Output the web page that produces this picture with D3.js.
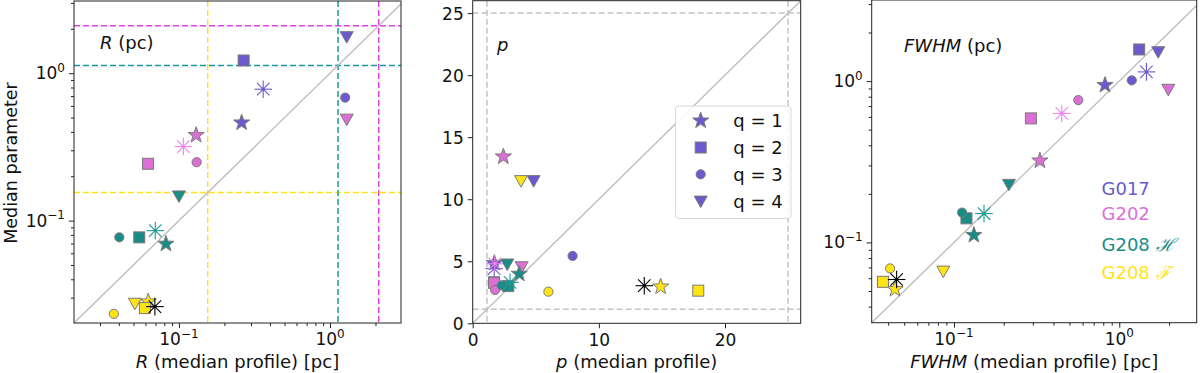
<!DOCTYPE html>
<html><head><meta charset="utf-8">
<script src="https://cdn.jsdelivr.net/npm/d3@7"></script>
<style>
body{margin:0;background:#fff;}
svg{display:block;font-family:"DejaVu Sans",sans-serif;}
</style></head>
<body><svg id="chart" width="1200" height="373"></svg>
<script>
// ---- data ----
const groups = ["G017", "G202", "G208 H", "G208 F"];
const groupColors = ["#6a5acd", "#da70d6", "#1a8c88", "#ffe414"];
const asteriskColors = ["#6a5acd", "#ee82ee", "#1a9a96", "#000000"];
const shapes = ["star", "square", "circle", "triangle", "asterisk"];
// order per group: star (q=1), square (q=2), circle (q=3), triangle (q=4), asterisk
const rMedianG017 = [0.26, 0.268, 1.26, 1.29, 0.361];
const rParamG017  = [0.462, 1.22, 0.683, 1.77, 0.779];
const rMedianG202 = [0.130, 0.0624, 0.131, 1.29, 0.107];
const rParamG202  = [0.38, 0.243, 0.249, 0.488, 0.318];
const rMedianG208H = [0.082, 0.0546, 0.0403, 0.1, 0.0697];
const rParamG208H  = [0.0695, 0.077, 0.077, 0.147, 0.0855];
const rMedianG208F = [0.0626, 0.0595, 0.0371, 0.0511, 0.0693];
const rParamG208F  = [0.0282, 0.0255, 0.0233, 0.0275, 0.0261];
const rLimits = [0.155, 1.13, 2.1]; // G208 F, G208 H, G202

const pMedianG017 = [1.72, 1.7, 7.92, 4.83, 1.7];
const pParamG017  = [4.85, 3.3, 5.43, 11.5, 4.4];
const pMedianG202 = [2.43, 1.69, 1.77, 3.88, 1.75];
const pParamG202  = [13.43, 3.27, 2.69, 4.56, 4.8];
const pMedianG208H = [3.69, 2.82, 2.30, 2.74, 2.96];
const pParamG208H  = [3.98, 3.0, 3.05, 4.78, 3.3];
const pMedianG208F = [14.9, 17.88, 6.0, 3.83, 13.6];
const pParamG208F  = [2.95, 2.63, 2.55, 11.5, 3.03];
const pLimits = [1.13, 25];

const fMedianG017 = [0.82, 1.32, 1.19, 1.72, 1.46];
const fParamG017  = [0.944, 1.57, 1.01, 1.52, 1.14];
const fMedianG202 = [0.331, 0.292, 0.565, 1.98, 0.449];
const fParamG202  = [0.321, 0.587, 0.762, 0.889, 0.63];
const fMedianG208H = [0.132, 0.119, 0.112, 0.215, 0.152];
const fParamG208H  = [0.111, 0.141, 0.153, 0.229, 0.151];
const fMedianG208F = [0.044, 0.0372, 0.0411, 0.0862, 0.045];
const fParamG208F  = [0.0513, 0.057, 0.069, 0.0664, 0.0589];

const legendLabels = ["q = 1", "q = 2", "q = 3", "q = 4"];
const linTicks = [0, 5, 10, 15, 20, 25];
const linXTicks = [0, 10, 20];

// ---- helpers ----
const svg = d3.select("#chart");
const FS = 18;     // labels
const TFS = 17;    // tick labels

function buildPoints(xs, ys) {
  const pts = [];
  xs.forEach((xa, g) => xa.forEach((x, i) => pts.push({x, y: ys[g][i], g, shape: shapes[i]})));
  return pts;
}

function starPath(r) {
  const pts = [];
  const ri = r * 0.4;
  for (let k = 0; k < 10; k++) {
    const a = -Math.PI / 2 + k * Math.PI / 5;
    const rr = k % 2 === 0 ? r : ri;
    pts.push([rr * Math.cos(a), rr * Math.sin(a)]);
  }
  return "M" + pts.map(p => p.join(",")).join("L") + "Z";
}

function drawMarker(sel, shape, color, acol) {
  const edge = "#7a7a7a";
  if (shape === "star") {
    sel.append("path").attr("d", starPath(8.5)).attr("fill", color).attr("stroke", edge).attr("stroke-width", 1);
  } else if (shape === "square") {
    sel.append("rect").attr("x", -5.5).attr("y", -5.5).attr("width", 11).attr("height", 11)
      .attr("fill", color).attr("stroke", edge).attr("stroke-width", 1);
  } else if (shape === "circle") {
    sel.append("circle").attr("r", 4.6).attr("fill", color).attr("stroke", edge).attr("stroke-width", 1);
  } else if (shape === "triangle") {
    sel.append("path").attr("d", "M-6.5,-5L6.5,-5L0,6.5Z").attr("fill", color).attr("stroke", edge).attr("stroke-width", 1);
  } else if (shape === "asterisk") {
    const r = 8.8;
    for (let k = 0; k < 4; k++) {
      const a = k * Math.PI / 4;
      sel.append("line").attr("x1", -r * Math.cos(a)).attr("y1", -r * Math.sin(a))
        .attr("x2", r * Math.cos(a)).attr("y2", r * Math.sin(a))
        .attr("stroke", acol).attr("stroke-width", 1.1);
    }
    sel.append("circle").attr("r", 1.6).attr("fill", acol);
  }
}

function logLabel(sel, exp) {
  sel.append("tspan").text("10");
  sel.append("tspan").attr("dy", -7.5).attr("font-size", 12).text(exp === 0 ? "0" : "\u22121");
}

function drawPanel(cfg) {
  const {x0, x1, y0, y1, xs, ys, log} = cfg;
  const g = svg.append("g");
  if (cfg.extras) cfg.extras(g, xs, ys);
  const dmin = Math.max(xs.domain()[0], ys.domain()[0]);
  const dmax = Math.min(xs.domain()[1], ys.domain()[1]);
  g.append("line").attr("x1", xs(dmin)).attr("y1", ys(dmin)).attr("x2", xs(dmax)).attr("y2", ys(dmax))
    .attr("stroke", "#bdbdbd").attr("stroke-width", 1.4);
  cfg.points.forEach(p => {
    const m = g.append("g").attr("transform", `translate(${xs(p.x)},${ys(p.y)})`);
    drawMarker(m, p.shape, groupColors[p.g], asteriskColors[p.g]);
  });
  g.append("rect").attr("x", x0).attr("y", y0).attr("width", x1 - x0).attr("height", y1 - y0)
    .attr("fill", "none").attr("stroke", "#222").attr("stroke-width", 1);
  if (log) {
    const dom = xs.domain();
    const minor = [];
    for (let e = -3; e <= 1; e++) for (let k = 2; k <= 9; k++) {
      const v = k * Math.pow(10, e);
      if (v >= dom[0] && v <= dom[1]) minor.push(v);
    }
    const major = [0.1, 1];
    const gx = g.append("g").attr("transform", `translate(0,${y1})`);
    gx.call(d3.axisBottom(xs).tickValues(minor).tickSize(3).tickFormat("").tickSizeOuter(0));
    const gx2 = g.append("g").attr("transform", `translate(0,${y1})`);
    gx2.call(d3.axisBottom(xs).tickValues(major).tickSize(5).tickFormat("").tickSizeOuter(0));
    const domY = ys.domain();
    const minorY = [];
    for (let e = -3; e <= 1; e++) for (let k = 2; k <= 9; k++) {
      const v = k * Math.pow(10, e);
      if (v >= domY[0] && v <= domY[1]) minorY.push(v);
    }
    const gy = g.append("g").attr("transform", `translate(${x0},0)`);
    gy.call(d3.axisLeft(ys).tickValues(minorY).tickSize(3).tickFormat("").tickSizeOuter(0));
    const gy2 = g.append("g").attr("transform", `translate(${x0},0)`);
    gy2.call(d3.axisLeft(ys).tickValues(major).tickSize(5).tickFormat("").tickSizeOuter(0));
    [gx, gx2, gy, gy2].forEach(a => { a.select(".domain").remove(); a.selectAll("line").attr("stroke", "#222"); });
    major.forEach((v, i) => {
      const t = g.append("text").attr("x", xs(v)).attr("y", y1 + 22).attr("text-anchor", "middle")
        .attr("font-size", TFS).attr("fill", "#111");
      logLabel(t, i === 0 ? -1 : 0);
      const t2 = g.append("text").attr("x", x0 - 9).attr("y", ys(v) + 6).attr("text-anchor", "end")
        .attr("font-size", TFS).attr("fill", "#111");
      logLabel(t2, i === 0 ? -1 : 0);
    });
  } else {
    const gx = g.append("g").attr("transform", `translate(0,${y1})`)
      .call(d3.axisBottom(xs).tickValues(linXTicks).tickSize(5).tickSizeOuter(0));
    const gy = g.append("g").attr("transform", `translate(${x0},0)`)
      .call(d3.axisLeft(ys).tickValues(linTicks).tickSize(5).tickSizeOuter(0));
    [gx, gy].forEach(a => {
      a.select(".domain").remove();
      a.selectAll("line").attr("stroke", "#222");
      a.selectAll("text").attr("font-size", TFS).attr("font-family", "DejaVu Sans").attr("fill", "#111");
    });
    gx.selectAll("text").attr("dy", "0").attr("y", 23);
    gy.selectAll("text").attr("x", -9).attr("dy", "0.36em");
  }
  const lab = g.append("text").attr("x", (x0 + x1) / 2).attr("y", 368).attr("text-anchor", "middle")
    .attr("font-size", FS).attr("fill", "#111");
  lab.append("tspan").attr("font-style", "italic").text(cfg.labelItalic);
  lab.append("tspan").text(cfg.labelRest);
  const tt = g.append("text").attr("x", cfg.titleX).attr("y", cfg.titleY).attr("font-size", FS).attr("fill", "#111");
  tt.append("tspan").attr("font-style", "italic").text(cfg.titleItalic);
  if (cfg.titleRest) tt.append("tspan").text(cfg.titleRest);
  return g;
}

// ---- left panel: R ----
const xsL = d3.scaleLog().domain([0.0202, 2.95]).range([74, 401]);
const ysL = d3.scaleLog().domain([0.0202, 3.09]).range([323, 1]);
drawPanel({
  x0: 74, x1: 401, y0: 1, y1: 323, xs: xsL, ys: ysL, log: true,
  points: buildPoints([rMedianG017, rMedianG202, rMedianG208H, rMedianG208F],
                      [rParamG017, rParamG202, rParamG208H, rParamG208F]),
  extras: (g, xs, ys) => {
    const cols = ["#ffe414", "#1a9a96", "#e040e0"];
    rLimits.forEach((v, i) => {
      g.append("line").attr("x1", xs(v)).attr("x2", xs(v)).attr("y1", 1).attr("y2", 323)
        .attr("stroke", cols[i]).attr("stroke-width", 1.5).attr("stroke-dasharray", "6,3");
      g.append("line").attr("x1", 74).attr("x2", 401).attr("y1", ys(v)).attr("y2", ys(v))
        .attr("stroke", cols[i]).attr("stroke-width", 1.5).attr("stroke-dasharray", "6,3");
    });
  },
  labelItalic: "R", labelRest: " (median profile) [pc]",
  titleItalic: "R", titleRest: " (pc)", titleX: 100, titleY: 49
});

svg.append("text").attr("transform", "translate(16.5,163) rotate(-90)").attr("text-anchor", "middle")
  .attr("font-size", 17.5).attr("fill", "#111").text("Median parameter");

// ---- middle panel: p ----
const xsM = d3.scaleLinear().domain([0, 26]).range([472.7, 800.7]);
const ysM = d3.scaleLinear().domain([0, 26]).range([323.3, 0.7]);
drawPanel({
  x0: 472.7, x1: 800.7, y0: 0.7, y1: 323.3, xs: xsM, ys: ysM, log: false,
  points: buildPoints([pMedianG017, pMedianG202, pMedianG208H, pMedianG208F],
                      [pParamG017, pParamG202, pParamG208H, pParamG208F]),
  extras: (g, xs, ys) => {
    pLimits.forEach(v => {
      g.append("line").attr("x1", xs(v)).attr("x2", xs(v)).attr("y1", 0.7).attr("y2", 323.3)
        .attr("stroke", "#c4c4c4").attr("stroke-width", 1.5).attr("stroke-dasharray", "6,3");
      g.append("line").attr("x1", 472.7).attr("x2", 800.7).attr("y1", ys(v)).attr("y2", ys(v))
        .attr("stroke", "#c4c4c4").attr("stroke-width", 1.5).attr("stroke-dasharray", "6,3");
    });
  },
  labelItalic: "p", labelRest: " (median profile)",
  titleItalic: "p", titleRest: "", titleX: 497, titleY: 51
});

// legend
const lg = svg.append("g").attr("transform", "translate(675.5,106)");
lg.append("rect").attr("width", 115.5).attr("height", 112.5).attr("rx", 3)
  .attr("fill", "#fff").attr("fill-opacity", 0.85).attr("stroke", "#d8d8d8").attr("stroke-width", 1);
legendLabels.forEach((l, i) => {
  const yy = 14.7 + i * 26.8;
  const m = lg.append("g").attr("transform", `translate(25.2,${yy})`);
  drawMarker(m, shapes[i], groupColors[0], asteriskColors[0]);
  lg.append("text").attr("x", 57.8).attr("y", yy + 6.5).attr("font-size", FS).attr("fill", "#111").text(l);
});

// ---- right panel: FWHM ----
const xsR = d3.scaleLog().domain([0.0318, 2.94]).range([871.7, 1196.7]);
const ysR = d3.scaleLog().domain([0.0318, 3.18]).range([322.7, 0]);
drawPanel({
  x0: 871.7, x1: 1196.7, y0: 0, y1: 322.7, xs: xsR, ys: ysR, log: true,
  points: buildPoints([fMedianG017, fMedianG202, fMedianG208H, fMedianG208F],
                      [fParamG017, fParamG202, fParamG208H, fParamG208F]),
  labelItalic: "FWHM", labelRest: " (median profile) [pc]",
  titleItalic: "FWHM", titleRest: " (pc)", titleX: 904, titleY: 52
});

const glabels = [["G017", ""], ["G202", ""], ["G208 ", "\u210B"], ["G208 ", "\u2131"]];
const gyPos = [194.5, 219.5, 250.5, 278.8];
glabels.forEach((gl, i) => {
  const t = svg.append("text").attr("x", 1101.5).attr("y", gyPos[i]).attr("font-size", FS)
    .attr("fill", groupColors[i]);
  t.append("tspan").text(gl[0]);
  if (gl[1]) t.append("tspan").attr("font-family", "DejaVu Serif").attr("font-style", "italic").text(gl[1]);
});
</script>
</body></html>
